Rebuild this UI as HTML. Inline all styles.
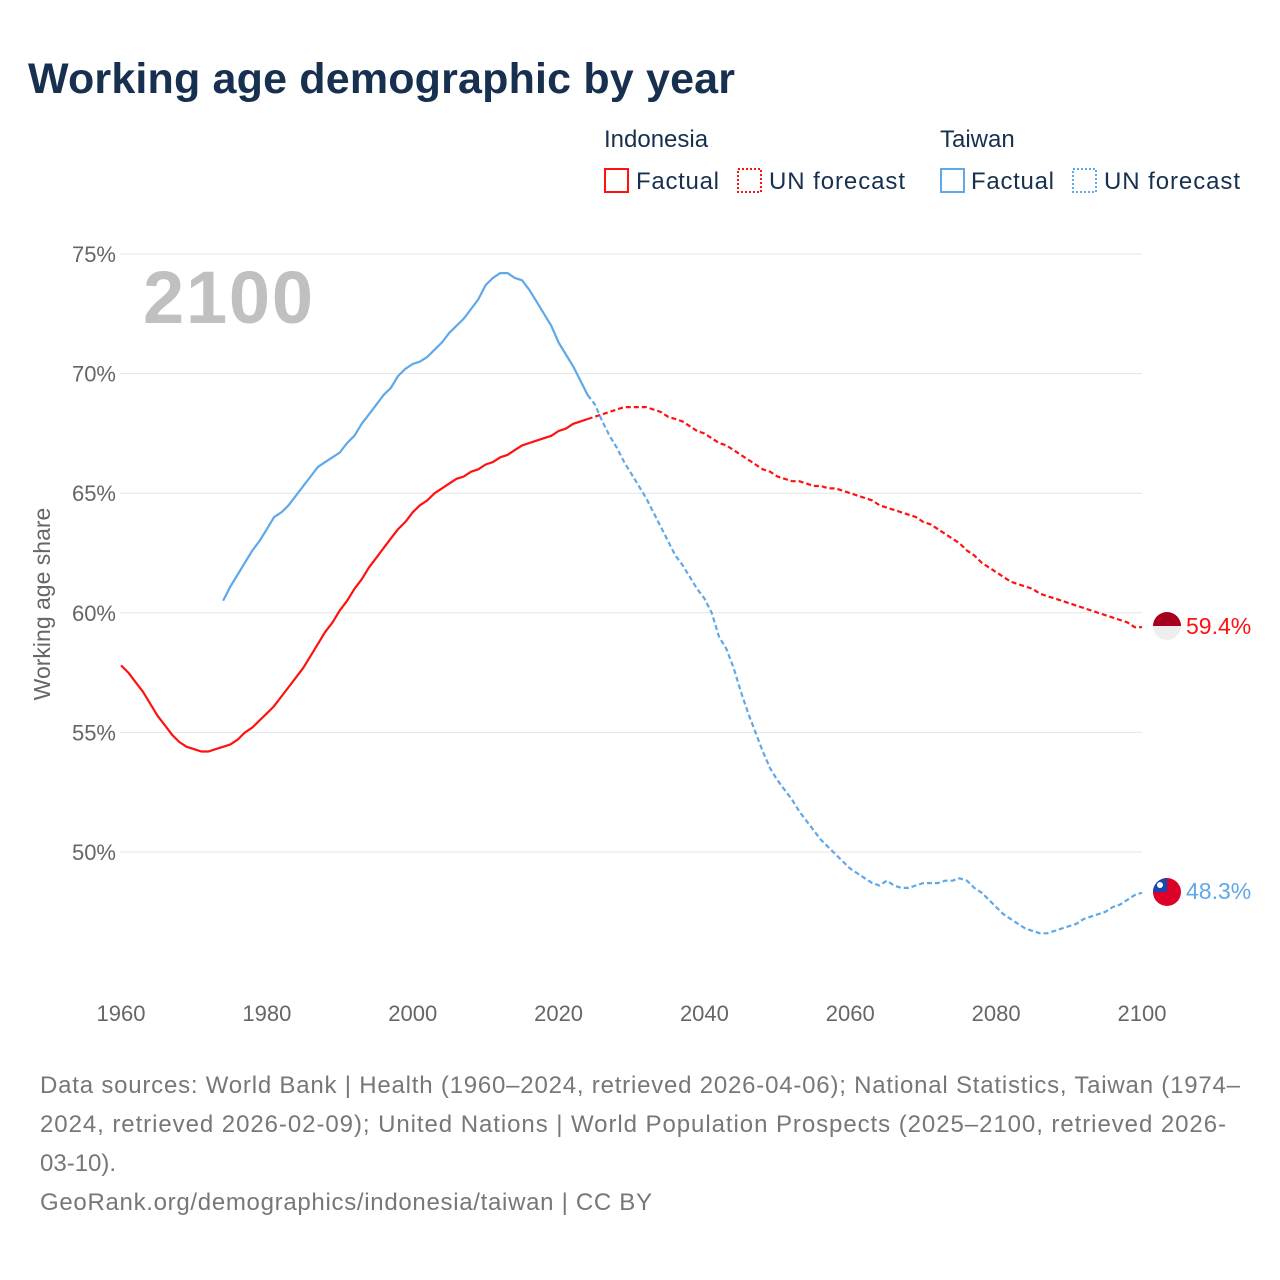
<!DOCTYPE html>
<html><head><meta charset="utf-8">
<style>
body{margin:0;background:#fff;font-family:"Liberation Sans",sans-serif;}
#wrap{position:relative;width:1280px;height:1280px;overflow:hidden;}
</style></head>
<body>
<div id="wrap">
<svg id="chart" width="1280" height="1280" viewBox="0 0 1280 1280">
<text x="28" y="93" font-size="43" font-weight="bold" fill="#17304f" textLength="707">Working age demographic by year</text>
<g>
<text x="604" y="147" font-size="24" fill="#17304f">Indonesia</text>
<rect x="605" y="169" width="23" height="23" fill="none" stroke="#ff1111" stroke-width="2"/>
<text x="636" y="189" font-size="24" fill="#17304f" textLength="83">Factual</text>
<rect x="738" y="169" width="23" height="23" fill="none" stroke="#ff1111" stroke-width="2" stroke-dasharray="2,2"/>
<text x="769" y="189" font-size="24" fill="#17304f" textLength="136">UN forecast</text>
<text x="940" y="147" font-size="24" fill="#17304f">Taiwan</text>
<rect x="941" y="169" width="23" height="23" fill="none" stroke="#5fa8ea" stroke-width="2"/>
<text x="971" y="189" font-size="24" fill="#17304f" textLength="83">Factual</text>
<rect x="1073" y="169" width="23" height="23" fill="none" stroke="#5fa8ea" stroke-width="2" stroke-dasharray="2,2"/>
<text x="1104" y="189" font-size="24" fill="#17304f" textLength="136">UN forecast</text>
</g>
<g id="grid"></g>
<text x="143" y="323" font-size="74" font-weight="bold" fill="#c0c0c0" textLength="170">2100</text>
<text transform="translate(50,604) rotate(-90)" text-anchor="middle" font-size="23" fill="#666">Working age share</text>
<g id="series"></g>
<g>
<clipPath id="cid"><circle cx="1167" cy="626" r="14"/></clipPath>
<g clip-path="url(#cid)"><rect x="1153" y="612" width="28" height="14" fill="#a6001e"/><rect x="1153" y="626" width="28" height="14" fill="#eeeeee"/></g>
<clipPath id="ctw"><circle cx="1167" cy="892" r="14"/></clipPath>
<g clip-path="url(#ctw)"><rect x="1153" y="878" width="28" height="28" fill="#dd0028"/><rect x="1153" y="878" width="14" height="14" fill="#1747b0"/><circle cx="1160" cy="885" r="3" fill="#fff"/></g>
<text x="1186" y="634" font-size="23" fill="#ff1111">59.4%</text>
<text x="1186" y="899" font-size="23" fill="#5fa8ea">48.3%</text>
</g>
<g font-size="24" fill="#777">
<text x="40" y="1093" textLength="1200">Data sources: World Bank | Health (1960–2024, retrieved 2026-04-06); National Statistics, Taiwan (1974–</text>
<text x="40" y="1132" textLength="1186">2024, retrieved 2026-02-09); United Nations | World Population Prospects (2025–2100, retrieved 2026-</text>
<text x="40" y="1171">03-10).</text>
<text x="40" y="1210" textLength="612">GeoRank.org/demographics/indonesia/taiwan | CC BY</text>
</g>
</svg>
</div>
<script>
const yTicks=[50,55,60,65,70,75];
const xTicks=[1960,1980,2000,2020,2040,2060,2080,2100];
const idnStart=1960;
const idnFactual=[57.8,57.5,57.1,56.7,56.2,55.7,55.3,54.9,54.6,54.4,54.3,54.2,54.2,54.3,54.4,54.5,54.7,55.0,55.2,55.5,55.8,56.1,56.5,56.9,57.3,57.7,58.2,58.7,59.2,59.6,60.1,60.5,61.0,61.4,61.9,62.3,62.7,63.1,63.5,63.8,64.2,64.5,64.7,65.0,65.2,65.4,65.6,65.7,65.9,66.0,66.2,66.3,66.5,66.6,66.8,67.0,67.1,67.2,67.3,67.4,67.6,67.7,67.9,68.0,68.1];
const idnForecastStart=2024;
const idnForecast=[68.1,68.2,68.3,68.4,68.5,68.6,68.6,68.6,68.6,68.5,68.4,68.2,68.1,68.0,67.8,67.6,67.5,67.3,67.1,67.0,66.8,66.6,66.4,66.2,66.0,65.9,65.7,65.6,65.5,65.5,65.4,65.3,65.3,65.2,65.2,65.1,65.0,64.9,64.8,64.7,64.5,64.4,64.3,64.2,64.1,64.0,63.8,63.7,63.5,63.3,63.1,62.9,62.6,62.4,62.1,61.9,61.7,61.5,61.3,61.2,61.1,61.0,60.8,60.7,60.6,60.5,60.4,60.3,60.2,60.1,60.0,59.9,59.8,59.7,59.6,59.4,59.4];
const twnStart=1974;
const twnFactual=[60.5,61.1,61.6,62.1,62.6,63.0,63.5,64.0,64.2,64.5,64.9,65.3,65.7,66.1,66.3,66.5,66.7,67.1,67.4,67.9,68.3,68.7,69.1,69.4,69.9,70.2,70.4,70.5,70.7,71.0,71.3,71.7,72.0,72.3,72.7,73.1,73.7,74.0,74.2,74.2,74.0,73.9,73.5,73.0,72.5,72.0,71.3,70.8,70.3,69.7,69.1];
const twnForecastStart=2024;
const twnForecast=[69.1,68.7,68.0,67.4,66.9,66.3,65.8,65.3,64.8,64.2,63.6,63.0,62.4,62.0,61.5,61.0,60.6,60.0,59.0,58.5,57.7,56.7,55.8,55.0,54.2,53.5,53.0,52.6,52.2,51.7,51.3,50.9,50.5,50.2,49.9,49.6,49.3,49.1,48.9,48.7,48.6,48.8,48.6,48.5,48.5,48.6,48.7,48.7,48.7,48.8,48.8,48.9,48.8,48.5,48.3,48.0,47.7,47.4,47.2,47.0,46.8,46.7,46.6,46.6,46.7,46.8,46.9,47.0,47.2,47.3,47.4,47.5,47.7,47.8,48.0,48.2,48.3];

const NS='http://www.w3.org/2000/svg';
function xs(yr){return 121+(yr-1960)*(1021/140);}
function ys(v){return 852-(v-50)*(598/25);}
const grid=document.getElementById('grid');
for(const t of yTicks){
  const l=document.createElementNS(NS,'line');
  l.setAttribute('x1',120);l.setAttribute('x2',1142);
  l.setAttribute('y1',ys(t));l.setAttribute('y2',ys(t));
  l.setAttribute('stroke','#e4e4e4');l.setAttribute('stroke-width','1');
  
  
  grid.appendChild(l);
  const tx=document.createElementNS(NS,'text');
  tx.setAttribute('x',116);tx.setAttribute('y',ys(t)+8);
  tx.setAttribute('text-anchor','end');tx.setAttribute('font-size','22');tx.setAttribute('fill','#666');
  tx.textContent=t+'%';
  
  
  grid.appendChild(tx);
}
for(const t of xTicks){
  const tx=document.createElementNS(NS,'text');
  tx.setAttribute('x',xs(t));tx.setAttribute('y',1021);
  tx.setAttribute('text-anchor','middle');tx.setAttribute('font-size','22');tx.setAttribute('fill','#666');
  tx.textContent=t;
  
  
  grid.appendChild(tx);
}
const series=document.getElementById('series');
function draw(start,vals,color,dash,name){
  const d=vals.map((v,i)=>(i?'L':'M')+xs(start+i).toFixed(1)+','+ys(v).toFixed(1)).join('');
  const p=document.createElementNS(NS,'path');
  p.setAttribute('d',d);p.setAttribute('fill','none');p.setAttribute('stroke',color);
  p.setAttribute('stroke-width','2.2');p.setAttribute('stroke-linejoin','round');
  if(dash)p.setAttribute('stroke-dasharray','5,3');
  
  
  series.appendChild(p);
}
draw(idnForecastStart,idnForecast,'#ff1111',true,'indonesia-forecast-line');
draw(twnForecastStart,twnForecast,'#5fa8ea',true,'taiwan-forecast-line');
draw(twnStart,twnFactual,'#5fa8ea',false,'taiwan-factual-line');
draw(idnStart,idnFactual,'#ff1111',false,'indonesia-factual-line');
</script>
</body></html>
